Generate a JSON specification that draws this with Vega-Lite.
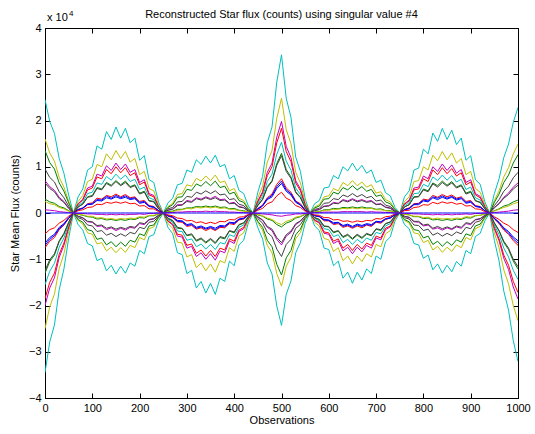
{
"$schema":"https://vega.github.io/schema/vega-lite/v6.json",
"width":473,"height":370,
"autosize":{"type":"none"},
"padding":{"left":45,"top":28,"right":17,"bottom":36},
"background":"white",
"title":{"text":"Reconstructed Star flux (counts) using singular value #4","fontSize":11,"font":"Liberation Sans","fontWeight":"normal","color":"black","offset":-10},
"config":{
"view":{"stroke":"black","strokeWidth":1},
"axis":{"grid":false,"domainColor":"black","tickColor":"black","labelColor":"black","titleColor":"black","labelFont":"Liberation Sans","titleFont":"Liberation Sans","labelFontSize":11,"titleFontSize":11,"titleFontWeight":"normal","tickSize":-5,"domainWidth":1,"tickWidth":1,"labelOverlap":false,"labelFlush":false}
},
"layer":[
{"data":{"values":[
{"x":0,"a":-3.45,"b":-2.5,"c":-2,"d":-1.85,"e":-1.55,"f":-1.3,"g":-1.25,"h":-0.75,"i":-0.7,"j":-0.65,"k":-0.45,"l":2.45,"m":1.6,"n":1.35,"o":0.95,"p":0.7,"q":0.65,"r":0.3,"s":0.25,"t":0.07,"u":0},
{"x":10,"a":-2.79,"b":-2.03,"c":-1.62,"d":-1.5,"e":-1.26,"f":-1.05,"g":-1.01,"h":-0.61,"i":-0.57,"j":-0.53,"k":-0.36,"l":1.98,"m":1.3,"n":1.09,"o":0.77,"p":0.57,"q":0.53,"r":0.24,"s":0.2,"t":0.06,"u":0},
{"x":20,"a":-2.42,"b":-1.75,"c":-1.4,"d":-1.3,"e":-1.09,"f":-0.91,"g":-0.88,"h":-0.53,"i":-0.49,"j":-0.46,"k":-0.32,"l":1.72,"m":1.12,"n":0.95,"o":0.67,"p":0.49,"q":0.46,"r":0.21,"s":0.18,"t":0.05,"u":0},
{"x":30,"a":-1.66,"b":-1.2,"c":-0.96,"d":-0.89,"e":-0.74,"f":-0.62,"g":-0.6,"h":-0.36,"i":-0.34,"j":-0.31,"k":-0.22,"l":1.18,"m":0.77,"n":0.65,"o":0.46,"p":0.34,"q":0.31,"r":0.14,"s":0.12,"t":0.03,"u":0},
{"x":40,"a":-1.21,"b":-0.88,"c":-0.7,"d":-0.65,"e":-0.54,"f":-0.46,"g":-0.44,"h":-0.26,"i":-0.25,"j":-0.23,"k":-0.16,"l":0.86,"m":0.56,"n":0.47,"o":0.33,"p":0.25,"q":0.23,"r":0.11,"s":0.09,"t":0.02,"u":0},
{"x":50,"a":-0.55,"b":-0.4,"c":-0.32,"d":-0.3,"e":-0.25,"f":-0.21,"g":-0.2,"h":-0.12,"i":-0.11,"j":-0.1,"k":-0.07,"l":0.39,"m":0.26,"n":0.22,"o":0.15,"p":0.11,"q":0.1,"r":0.05,"s":0.04,"t":0.01,"u":0},
{"x":60,"a":0,"b":0,"c":0,"d":0,"e":0,"f":0,"g":0,"h":0,"i":0,"j":0,"k":0,"l":0,"m":0,"n":0,"o":0,"p":0,"q":0,"r":0,"s":0,"t":0,"u":0},
{"x":70,"a":0.35,"b":0.25,"c":0.2,"d":0.19,"e":0.16,"f":0.13,"g":0.13,"h":0.08,"i":0.07,"j":0.07,"k":0.05,"l":-0.25,"m":-0.16,"n":-0.14,"o":-0.1,"p":-0.07,"q":-0.07,"r":-0.03,"s":-0.03,"t":-0.01,"u":0},
{"x":80,"a":0.52,"b":0.38,"c":0.3,"d":0.28,"e":0.23,"f":0.2,"g":0.19,"h":0.11,"i":0.11,"j":0.1,"k":0.07,"l":-0.37,"m":-0.24,"n":-0.2,"o":-0.14,"p":-0.11,"q":-0.1,"r":-0.05,"s":-0.04,"t":-0.01,"u":0},
{"x":90,"a":0.93,"b":0.68,"c":0.54,"d":0.5,"e":0.42,"f":0.35,"g":0.34,"h":0.2,"i":0.19,"j":0.18,"k":0.12,"l":-0.66,"m":-0.43,"n":-0.36,"o":-0.26,"p":-0.19,"q":-0.18,"r":-0.08,"s":-0.07,"t":-0.02,"u":0},
{"x":100,"a":1,"b":0.73,"c":0.58,"d":0.54,"e":0.45,"f":0.38,"g":0.36,"h":0.22,"i":0.2,"j":0.19,"k":0.13,"l":-0.71,"m":-0.46,"n":-0.39,"o":-0.28,"p":-0.2,"q":-0.19,"r":-0.09,"s":-0.07,"t":-0.02,"u":0},
{"x":110,"a":1.45,"b":1.05,"c":0.84,"d":0.78,"e":0.65,"f":0.55,"g":0.53,"h":0.32,"i":0.29,"j":0.27,"k":0.19,"l":-1.03,"m":-0.67,"n":-0.57,"o":-0.4,"p":-0.29,"q":-0.27,"r":-0.13,"s":-0.11,"t":-0.03,"u":0},
{"x":120,"a":1.38,"b":1,"c":0.8,"d":0.74,"e":0.62,"f":0.52,"g":0.5,"h":0.3,"i":0.28,"j":0.26,"k":0.18,"l":-0.98,"m":-0.64,"n":-0.54,"o":-0.38,"p":-0.28,"q":-0.26,"r":-0.12,"s":-0.1,"t":-0.03,"u":0},
{"x":130,"a":1.76,"b":1.28,"c":1.02,"d":0.94,"e":0.79,"f":0.66,"g":0.64,"h":0.38,"i":0.36,"j":0.33,"k":0.23,"l":-1.25,"m":-0.82,"n":-0.69,"o":-0.48,"p":-0.36,"q":-0.33,"r":-0.15,"s":-0.13,"t":-0.04,"u":0},
{"x":140,"a":1.59,"b":1.15,"c":0.92,"d":0.85,"e":0.71,"f":0.6,"g":0.58,"h":0.35,"i":0.32,"j":0.3,"k":0.21,"l":-1.13,"m":-0.74,"n":-0.62,"o":-0.44,"p":-0.32,"q":-0.3,"r":-0.14,"s":-0.12,"t":-0.03,"u":0},
{"x":150,"a":1.86,"b":1.35,"c":1.08,"d":1,"e":0.84,"f":0.7,"g":0.68,"h":0.41,"i":0.38,"j":0.35,"k":0.24,"l":-1.32,"m":-0.86,"n":-0.73,"o":-0.51,"p":-0.38,"q":-0.35,"r":-0.16,"s":-0.14,"t":-0.04,"u":0},
{"x":160,"a":1.62,"b":1.18,"c":0.94,"d":0.87,"e":0.73,"f":0.61,"g":0.59,"h":0.35,"i":0.33,"j":0.31,"k":0.21,"l":-1.15,"m":-0.75,"n":-0.63,"o":-0.45,"p":-0.33,"q":-0.31,"r":-0.14,"s":-0.12,"t":-0.03,"u":0},
{"x":170,"a":1.83,"b":1.33,"c":1.06,"d":0.98,"e":0.82,"f":0.69,"g":0.66,"h":0.4,"i":0.37,"j":0.34,"k":0.24,"l":-1.3,"m":-0.85,"n":-0.72,"o":-0.5,"p":-0.37,"q":-0.34,"r":-0.16,"s":-0.13,"t":-0.04,"u":0},
{"x":180,"a":1.52,"b":1.1,"c":0.88,"d":0.81,"e":0.68,"f":0.57,"g":0.55,"h":0.33,"i":0.31,"j":0.29,"k":0.2,"l":-1.08,"m":-0.7,"n":-0.59,"o":-0.42,"p":-0.31,"q":-0.29,"r":-0.13,"s":-0.11,"t":-0.03,"u":0},
{"x":190,"a":1.62,"b":1.18,"c":0.94,"d":0.87,"e":0.73,"f":0.61,"g":0.59,"h":0.35,"i":0.33,"j":0.31,"k":0.21,"l":-1.15,"m":-0.75,"n":-0.63,"o":-0.45,"p":-0.33,"q":-0.31,"r":-0.14,"s":-0.12,"t":-0.03,"u":0},
{"x":200,"a":1.14,"b":0.83,"c":0.66,"d":0.61,"e":0.51,"f":0.43,"g":0.41,"h":0.25,"i":0.23,"j":0.21,"k":0.15,"l":-0.81,"m":-0.53,"n":-0.45,"o":-0.31,"p":-0.23,"q":-0.21,"r":-0.1,"s":-0.08,"t":-0.02,"u":0},
{"x":210,"a":1.24,"b":0.9,"c":0.72,"d":0.67,"e":0.56,"f":0.47,"g":0.45,"h":0.27,"i":0.25,"j":0.23,"k":0.16,"l":-0.88,"m":-0.58,"n":-0.49,"o":-0.34,"p":-0.25,"q":-0.23,"r":-0.11,"s":-0.09,"t":-0.03,"u":0},
{"x":220,"a":0.72,"b":0.53,"c":0.42,"d":0.39,"e":0.33,"f":0.27,"g":0.26,"h":0.16,"i":0.15,"j":0.14,"k":0.09,"l":-0.51,"m":-0.34,"n":-0.28,"o":-0.2,"p":-0.15,"q":-0.14,"r":-0.06,"s":-0.05,"t":-0.01,"u":0},
{"x":230,"a":0.66,"b":0.48,"c":0.38,"d":0.35,"e":0.29,"f":0.25,"g":0.24,"h":0.14,"i":0.13,"j":0.12,"k":0.09,"l":-0.47,"m":-0.3,"n":-0.26,"o":-0.18,"p":-0.13,"q":-0.12,"r":-0.06,"s":-0.05,"t":-0.01,"u":0},
{"x":240,"a":0.24,"b":0.18,"c":0.14,"d":0.13,"e":0.11,"f":0.09,"g":0.09,"h":0.05,"i":0.05,"j":0.05,"k":0.03,"l":-0.17,"m":-0.11,"n":-0.09,"o":-0.07,"p":-0.05,"q":-0.05,"r":-0.02,"s":-0.02,"t":0,"u":0},
{"x":250,"a":0,"b":0,"c":0,"d":0,"e":0,"f":0,"g":0,"h":0,"i":0,"j":0,"k":0,"l":0,"m":0,"n":0,"o":0,"p":0,"q":0,"r":0,"s":0,"t":0,"u":0},
{"x":260,"a":-0.31,"b":-0.23,"c":-0.18,"d":-0.17,"e":-0.14,"f":-0.12,"g":-0.11,"h":-0.07,"i":-0.06,"j":-0.06,"k":-0.04,"l":0.22,"m":0.14,"n":0.12,"o":0.09,"p":0.06,"q":0.06,"r":0.03,"s":0.02,"t":0.01,"u":0},
{"x":270,"a":-0.45,"b":-0.33,"c":-0.26,"d":-0.24,"e":-0.2,"f":-0.17,"g":-0.16,"h":-0.1,"i":-0.09,"j":-0.08,"k":-0.06,"l":0.32,"m":0.21,"n":0.18,"o":0.12,"p":0.09,"q":0.08,"r":0.04,"s":0.03,"t":0.01,"u":0},
{"x":280,"a":-0.86,"b":-0.63,"c":-0.5,"d":-0.46,"e":-0.39,"f":-0.33,"g":-0.31,"h":-0.19,"i":-0.18,"j":-0.16,"k":-0.11,"l":0.61,"m":0.4,"n":0.34,"o":0.24,"p":0.18,"q":0.16,"r":0.08,"s":0.06,"t":0.02,"u":0},
{"x":290,"a":-0.9,"b":-0.65,"c":-0.52,"d":-0.48,"e":-0.4,"f":-0.34,"g":-0.33,"h":-0.2,"i":-0.18,"j":-0.17,"k":-0.12,"l":0.64,"m":0.42,"n":0.35,"o":0.25,"p":0.18,"q":0.17,"r":0.08,"s":0.07,"t":0.02,"u":0},
{"x":300,"a":-1.31,"b":-0.95,"c":-0.76,"d":-0.7,"e":-0.59,"f":-0.49,"g":-0.48,"h":-0.29,"i":-0.27,"j":-0.25,"k":-0.17,"l":0.93,"m":0.61,"n":0.51,"o":0.36,"p":0.27,"q":0.25,"r":0.11,"s":0.1,"t":0.03,"u":0},
{"x":310,"a":-1.24,"b":-0.9,"c":-0.72,"d":-0.67,"e":-0.56,"f":-0.47,"g":-0.45,"h":-0.27,"i":-0.25,"j":-0.23,"k":-0.16,"l":0.88,"m":0.58,"n":0.49,"o":0.34,"p":0.25,"q":0.23,"r":0.11,"s":0.09,"t":0.03,"u":0},
{"x":320,"a":-1.62,"b":-1.18,"c":-0.94,"d":-0.87,"e":-0.73,"f":-0.61,"g":-0.59,"h":-0.35,"i":-0.33,"j":-0.31,"k":-0.21,"l":1.15,"m":0.75,"n":0.63,"o":0.45,"p":0.33,"q":0.31,"r":0.14,"s":0.12,"t":0.03,"u":0},
{"x":330,"a":-1.48,"b":-1.08,"c":-0.86,"d":-0.8,"e":-0.67,"f":-0.56,"g":-0.54,"h":-0.32,"i":-0.3,"j":-0.28,"k":-0.19,"l":1.05,"m":0.69,"n":0.58,"o":0.41,"p":0.3,"q":0.28,"r":0.13,"s":0.11,"t":0.03,"u":0},
{"x":340,"a":-1.73,"b":-1.25,"c":-1,"d":-0.93,"e":-0.78,"f":-0.65,"g":-0.63,"h":-0.38,"i":-0.35,"j":-0.33,"k":-0.23,"l":1.23,"m":0.8,"n":0.68,"o":0.48,"p":0.35,"q":0.33,"r":0.15,"s":0.13,"t":0.04,"u":0},
{"x":350,"a":-1.52,"b":-1.1,"c":-0.88,"d":-0.81,"e":-0.68,"f":-0.57,"g":-0.55,"h":-0.33,"i":-0.31,"j":-0.29,"k":-0.2,"l":1.08,"m":0.7,"n":0.59,"o":0.42,"p":0.31,"q":0.29,"r":0.13,"s":0.11,"t":0.03,"u":0},
{"x":360,"a":-1.76,"b":-1.28,"c":-1.02,"d":-0.94,"e":-0.79,"f":-0.66,"g":-0.64,"h":-0.38,"i":-0.36,"j":-0.33,"k":-0.23,"l":1.25,"m":0.82,"n":0.69,"o":0.48,"p":0.36,"q":0.33,"r":0.15,"s":0.13,"t":0.04,"u":0},
{"x":370,"a":-1.41,"b":-1.03,"c":-0.82,"d":-0.76,"e":-0.64,"f":-0.53,"g":-0.51,"h":-0.31,"i":-0.29,"j":-0.27,"k":-0.18,"l":1,"m":0.66,"n":0.55,"o":0.39,"p":0.29,"q":0.27,"r":0.12,"s":0.1,"t":0.03,"u":0},
{"x":380,"a":-1.48,"b":-1.08,"c":-0.86,"d":-0.8,"e":-0.67,"f":-0.56,"g":-0.54,"h":-0.32,"i":-0.3,"j":-0.28,"k":-0.19,"l":1.05,"m":0.69,"n":0.58,"o":0.41,"p":0.3,"q":0.28,"r":0.13,"s":0.11,"t":0.03,"u":0},
{"x":390,"a":-1.04,"b":-0.75,"c":-0.6,"d":-0.56,"e":-0.47,"f":-0.39,"g":-0.38,"h":-0.23,"i":-0.21,"j":-0.2,"k":-0.14,"l":0.74,"m":0.48,"n":0.41,"o":0.29,"p":0.21,"q":0.2,"r":0.09,"s":0.08,"t":0.02,"u":0},
{"x":400,"a":-1.14,"b":-0.83,"c":-0.66,"d":-0.61,"e":-0.51,"f":-0.43,"g":-0.41,"h":-0.25,"i":-0.23,"j":-0.21,"k":-0.15,"l":0.81,"m":0.53,"n":0.45,"o":0.31,"p":0.23,"q":0.21,"r":0.1,"s":0.08,"t":0.02,"u":0},
{"x":410,"a":-0.69,"b":-0.5,"c":-0.4,"d":-0.37,"e":-0.31,"f":-0.26,"g":-0.25,"h":-0.15,"i":-0.14,"j":-0.13,"k":-0.09,"l":0.49,"m":0.32,"n":0.27,"o":0.19,"p":0.14,"q":0.13,"r":0.06,"s":0.05,"t":0.01,"u":0},
{"x":420,"a":-0.59,"b":-0.43,"c":-0.34,"d":-0.31,"e":-0.26,"f":-0.22,"g":-0.21,"h":-0.13,"i":-0.12,"j":-0.11,"k":-0.08,"l":0.42,"m":0.27,"n":0.23,"o":0.16,"p":0.12,"q":0.11,"r":0.05,"s":0.04,"t":0.01,"u":0},
{"x":430,"a":-0.21,"b":-0.15,"c":-0.12,"d":-0.11,"e":-0.09,"f":-0.08,"g":-0.08,"h":-0.05,"i":-0.04,"j":-0.04,"k":-0.03,"l":0.15,"m":0.1,"n":0.08,"o":0.06,"p":0.04,"q":0.04,"r":0.02,"s":0.02,"t":0,"u":0},
{"x":440,"a":0,"b":0,"c":0,"d":0,"e":0,"f":0,"g":0,"h":0,"i":0,"j":0,"k":0,"l":0,"m":0,"n":0,"o":0,"p":0,"q":0,"r":0,"s":0,"t":0,"u":0},
{"x":450,"a":0.45,"b":0.33,"c":0.26,"d":0.24,"e":0.2,"f":0.17,"g":0.16,"h":0.1,"i":0.09,"j":0.08,"k":0.06,"l":-0.32,"m":-0.21,"n":-0.18,"o":-0.12,"p":-0.09,"q":-0.08,"r":-0.04,"s":-0.03,"t":-0.01,"u":0},
{"x":460,"a":0.79,"b":0.58,"c":0.46,"d":0.43,"e":0.36,"f":0.3,"g":0.29,"h":0.17,"i":0.16,"j":0.15,"k":0.1,"l":-0.56,"m":-0.37,"n":-0.31,"o":-0.22,"p":-0.16,"q":-0.15,"r":-0.07,"s":-0.06,"t":-0.02,"u":0},
{"x":470,"a":1.52,"b":1.1,"c":0.88,"d":0.81,"e":0.68,"f":0.57,"g":0.55,"h":0.33,"i":0.31,"j":0.29,"k":0.2,"l":-1.08,"m":-0.7,"n":-0.59,"o":-0.42,"p":-0.31,"q":-0.29,"r":-0.13,"s":-0.11,"t":-0.03,"u":0},
{"x":480,"a":1.86,"b":1.35,"c":1.08,"d":1,"e":0.84,"f":0.7,"g":0.68,"h":0.41,"i":0.38,"j":0.35,"k":0.24,"l":-1.32,"m":-0.86,"n":-0.73,"o":-0.51,"p":-0.38,"q":-0.35,"r":-0.16,"s":-0.14,"t":-0.04,"u":0},
{"x":490,"a":2.83,"b":2.05,"c":1.64,"d":1.52,"e":1.27,"f":1.07,"g":1.03,"h":0.62,"i":0.57,"j":0.53,"k":0.37,"l":-2.01,"m":-1.31,"n":-1.11,"o":-0.78,"p":-0.57,"q":-0.53,"r":-0.25,"s":-0.21,"t":-0.06,"u":0},
{"x":500,"a":3.42,"b":2.48,"c":1.98,"d":1.83,"e":1.53,"f":1.29,"g":1.24,"h":0.74,"i":0.69,"j":0.64,"k":0.45,"l":-2.43,"m":-1.58,"n":-1.34,"o":-0.94,"p":-0.69,"q":-0.64,"r":-0.3,"s":-0.25,"t":-0.07,"u":0},
{"x":510,"a":2.48,"b":1.8,"c":1.44,"d":1.33,"e":1.12,"f":0.94,"g":0.9,"h":0.54,"i":0.5,"j":0.47,"k":0.32,"l":-1.76,"m":-1.15,"n":-0.97,"o":-0.68,"p":-0.5,"q":-0.47,"r":-0.22,"s":-0.18,"t":-0.05,"u":0},
{"x":520,"a":2.07,"b":1.5,"c":1.2,"d":1.11,"e":0.93,"f":0.78,"g":0.75,"h":0.45,"i":0.42,"j":0.39,"k":0.27,"l":-1.47,"m":-0.96,"n":-0.81,"o":-0.57,"p":-0.42,"q":-0.39,"r":-0.18,"s":-0.15,"t":-0.04,"u":0},
{"x":530,"a":1.21,"b":0.88,"c":0.7,"d":0.65,"e":0.54,"f":0.46,"g":0.44,"h":0.26,"i":0.25,"j":0.23,"k":0.16,"l":-0.86,"m":-0.56,"n":-0.47,"o":-0.33,"p":-0.25,"q":-0.23,"r":-0.11,"s":-0.09,"t":-0.02,"u":0},
{"x":540,"a":0.9,"b":0.65,"c":0.52,"d":0.48,"e":0.4,"f":0.34,"g":0.33,"h":0.2,"i":0.18,"j":0.17,"k":0.12,"l":-0.64,"m":-0.42,"n":-0.35,"o":-0.25,"p":-0.18,"q":-0.17,"r":-0.08,"s":-0.07,"t":-0.02,"u":0},
{"x":550,"a":0.31,"b":0.23,"c":0.18,"d":0.17,"e":0.14,"f":0.12,"g":0.11,"h":0.07,"i":0.06,"j":0.06,"k":0.04,"l":-0.22,"m":-0.14,"n":-0.12,"o":-0.09,"p":-0.06,"q":-0.06,"r":-0.03,"s":-0.02,"t":-0.01,"u":0},
{"x":560,"a":0,"b":0,"c":0,"d":0,"e":0,"f":0,"g":0,"h":0,"i":0,"j":0,"k":0,"l":0,"m":0,"n":0,"o":0,"p":0,"q":0,"r":0,"s":0,"t":0,"u":0},
{"x":570,"a":-0.28,"b":-0.2,"c":-0.16,"d":-0.15,"e":-0.12,"f":-0.1,"g":-0.1,"h":-0.06,"i":-0.06,"j":-0.05,"k":-0.04,"l":0.2,"m":0.13,"n":0.11,"o":0.08,"p":0.06,"q":0.05,"r":0.02,"s":0.02,"t":0.01,"u":0},
{"x":580,"a":-0.38,"b":-0.28,"c":-0.22,"d":-0.2,"e":-0.17,"f":-0.14,"g":-0.14,"h":-0.08,"i":-0.08,"j":-0.07,"k":-0.05,"l":0.27,"m":0.18,"n":0.15,"o":0.1,"p":0.08,"q":0.07,"r":0.03,"s":0.03,"t":0.01,"u":0},
{"x":590,"a":-0.76,"b":-0.55,"c":-0.44,"d":-0.41,"e":-0.34,"f":-0.29,"g":-0.28,"h":-0.17,"i":-0.15,"j":-0.14,"k":-0.1,"l":0.54,"m":0.35,"n":0.3,"o":0.21,"p":0.15,"q":0.14,"r":0.07,"s":0.06,"t":0.02,"u":0},
{"x":600,"a":-0.79,"b":-0.58,"c":-0.46,"d":-0.43,"e":-0.36,"f":-0.3,"g":-0.29,"h":-0.17,"i":-0.16,"j":-0.15,"k":-0.1,"l":0.56,"m":0.37,"n":0.31,"o":0.22,"p":0.16,"q":0.15,"r":0.07,"s":0.06,"t":0.02,"u":0},
{"x":610,"a":-1.14,"b":-0.83,"c":-0.66,"d":-0.61,"e":-0.51,"f":-0.43,"g":-0.41,"h":-0.25,"i":-0.23,"j":-0.21,"k":-0.15,"l":0.81,"m":0.53,"n":0.45,"o":0.31,"p":0.23,"q":0.21,"r":0.1,"s":0.08,"t":0.02,"u":0},
{"x":620,"a":-1.04,"b":-0.75,"c":-0.6,"d":-0.56,"e":-0.47,"f":-0.39,"g":-0.38,"h":-0.23,"i":-0.21,"j":-0.2,"k":-0.14,"l":0.74,"m":0.48,"n":0.41,"o":0.29,"p":0.21,"q":0.2,"r":0.09,"s":0.08,"t":0.02,"u":0},
{"x":630,"a":-1.41,"b":-1.03,"c":-0.82,"d":-0.76,"e":-0.64,"f":-0.53,"g":-0.51,"h":-0.31,"i":-0.29,"j":-0.27,"k":-0.18,"l":1,"m":0.66,"n":0.55,"o":0.39,"p":0.29,"q":0.27,"r":0.12,"s":0.1,"t":0.03,"u":0},
{"x":640,"a":-1.28,"b":-0.93,"c":-0.74,"d":-0.68,"e":-0.57,"f":-0.48,"g":-0.46,"h":-0.28,"i":-0.26,"j":-0.24,"k":-0.17,"l":0.91,"m":0.59,"n":0.5,"o":0.35,"p":0.26,"q":0.24,"r":0.11,"s":0.09,"t":0.03,"u":0},
{"x":650,"a":-1.52,"b":-1.1,"c":-0.88,"d":-0.81,"e":-0.68,"f":-0.57,"g":-0.55,"h":-0.33,"i":-0.31,"j":-0.29,"k":-0.2,"l":1.08,"m":0.7,"n":0.59,"o":0.42,"p":0.31,"q":0.29,"r":0.13,"s":0.11,"t":0.03,"u":0},
{"x":660,"a":-1.28,"b":-0.93,"c":-0.74,"d":-0.68,"e":-0.57,"f":-0.48,"g":-0.46,"h":-0.28,"i":-0.26,"j":-0.24,"k":-0.17,"l":0.91,"m":0.59,"n":0.5,"o":0.35,"p":0.26,"q":0.24,"r":0.11,"s":0.09,"t":0.03,"u":0},
{"x":670,"a":-1.45,"b":-1.05,"c":-0.84,"d":-0.78,"e":-0.65,"f":-0.55,"g":-0.53,"h":-0.32,"i":-0.29,"j":-0.27,"k":-0.19,"l":1.03,"m":0.67,"n":0.57,"o":0.4,"p":0.29,"q":0.27,"r":0.13,"s":0.11,"t":0.03,"u":0},
{"x":680,"a":-1.21,"b":-0.88,"c":-0.7,"d":-0.65,"e":-0.54,"f":-0.46,"g":-0.44,"h":-0.26,"i":-0.25,"j":-0.23,"k":-0.16,"l":0.86,"m":0.56,"n":0.47,"o":0.33,"p":0.25,"q":0.23,"r":0.11,"s":0.09,"t":0.02,"u":0},
{"x":690,"a":-1.31,"b":-0.95,"c":-0.76,"d":-0.7,"e":-0.59,"f":-0.49,"g":-0.48,"h":-0.29,"i":-0.27,"j":-0.25,"k":-0.17,"l":0.93,"m":0.61,"n":0.51,"o":0.36,"p":0.27,"q":0.25,"r":0.11,"s":0.1,"t":0.03,"u":0},
{"x":700,"a":-0.93,"b":-0.68,"c":-0.54,"d":-0.5,"e":-0.42,"f":-0.35,"g":-0.34,"h":-0.2,"i":-0.19,"j":-0.18,"k":-0.12,"l":0.66,"m":0.43,"n":0.36,"o":0.26,"p":0.19,"q":0.18,"r":0.08,"s":0.07,"t":0.02,"u":0},
{"x":710,"a":-1,"b":-0.73,"c":-0.58,"d":-0.54,"e":-0.45,"f":-0.38,"g":-0.36,"h":-0.22,"i":-0.2,"j":-0.19,"k":-0.13,"l":0.71,"m":0.46,"n":0.39,"o":0.28,"p":0.2,"q":0.19,"r":0.09,"s":0.07,"t":0.02,"u":0},
{"x":720,"a":-0.62,"b":-0.45,"c":-0.36,"d":-0.33,"e":-0.28,"f":-0.23,"g":-0.23,"h":-0.14,"i":-0.13,"j":-0.12,"k":-0.08,"l":0.44,"m":0.29,"n":0.24,"o":0.17,"p":0.13,"q":0.12,"r":0.05,"s":0.05,"t":0.01,"u":0},
{"x":730,"a":-0.52,"b":-0.38,"c":-0.3,"d":-0.28,"e":-0.23,"f":-0.2,"g":-0.19,"h":-0.11,"i":-0.11,"j":-0.1,"k":-0.07,"l":0.37,"m":0.24,"n":0.2,"o":0.14,"p":0.11,"q":0.1,"r":0.05,"s":0.04,"t":0.01,"u":0},
{"x":740,"a":-0.17,"b":-0.13,"c":-0.1,"d":-0.09,"e":-0.08,"f":-0.07,"g":-0.06,"h":-0.04,"i":-0.04,"j":-0.03,"k":-0.02,"l":0.12,"m":0.08,"n":0.07,"o":0.05,"p":0.04,"q":0.03,"r":0.02,"s":0.01,"t":0,"u":0},
{"x":750,"a":0,"b":0,"c":0,"d":0,"e":0,"f":0,"g":0,"h":0,"i":0,"j":0,"k":0,"l":0,"m":0,"n":0,"o":0,"p":0,"q":0,"r":0,"s":0,"t":0,"u":0},
{"x":760,"a":0.35,"b":0.25,"c":0.2,"d":0.19,"e":0.16,"f":0.13,"g":0.13,"h":0.08,"i":0.07,"j":0.07,"k":0.05,"l":-0.25,"m":-0.16,"n":-0.14,"o":-0.1,"p":-0.07,"q":-0.07,"r":-0.03,"s":-0.03,"t":-0.01,"u":0},
{"x":770,"a":0.48,"b":0.35,"c":0.28,"d":0.26,"e":0.22,"f":0.18,"g":0.18,"h":0.11,"i":0.1,"j":0.09,"k":0.06,"l":-0.34,"m":-0.22,"n":-0.19,"o":-0.13,"p":-0.1,"q":-0.09,"r":-0.04,"s":-0.04,"t":-0.01,"u":0},
{"x":780,"a":0.93,"b":0.68,"c":0.54,"d":0.5,"e":0.42,"f":0.35,"g":0.34,"h":0.2,"i":0.19,"j":0.18,"k":0.12,"l":-0.66,"m":-0.43,"n":-0.36,"o":-0.26,"p":-0.19,"q":-0.18,"r":-0.08,"s":-0.07,"t":-0.02,"u":0},
{"x":790,"a":0.97,"b":0.7,"c":0.56,"d":0.52,"e":0.43,"f":0.36,"g":0.35,"h":0.21,"i":0.2,"j":0.18,"k":0.13,"l":-0.69,"m":-0.45,"n":-0.38,"o":-0.27,"p":-0.2,"q":-0.18,"r":-0.08,"s":-0.07,"t":-0.02,"u":0},
{"x":800,"a":1.38,"b":1,"c":0.8,"d":0.74,"e":0.62,"f":0.52,"g":0.5,"h":0.3,"i":0.28,"j":0.26,"k":0.18,"l":-0.98,"m":-0.64,"n":-0.54,"o":-0.38,"p":-0.28,"q":-0.26,"r":-0.12,"s":-0.1,"t":-0.03,"u":0},
{"x":810,"a":1.28,"b":0.93,"c":0.74,"d":0.68,"e":0.57,"f":0.48,"g":0.46,"h":0.28,"i":0.26,"j":0.24,"k":0.17,"l":-0.91,"m":-0.59,"n":-0.5,"o":-0.35,"p":-0.26,"q":-0.24,"r":-0.11,"s":-0.09,"t":-0.03,"u":0},
{"x":820,"a":1.73,"b":1.25,"c":1,"d":0.93,"e":0.78,"f":0.65,"g":0.63,"h":0.38,"i":0.35,"j":0.33,"k":0.23,"l":-1.23,"m":-0.8,"n":-0.68,"o":-0.48,"p":-0.35,"q":-0.33,"r":-0.15,"s":-0.13,"t":-0.04,"u":0},
{"x":830,"a":1.55,"b":1.13,"c":0.9,"d":0.83,"e":0.7,"f":0.59,"g":0.56,"h":0.34,"i":0.32,"j":0.29,"k":0.2,"l":-1.1,"m":-0.72,"n":-0.61,"o":-0.43,"p":-0.32,"q":-0.29,"r":-0.14,"s":-0.11,"t":-0.03,"u":0},
{"x":840,"a":1.83,"b":1.33,"c":1.06,"d":0.98,"e":0.82,"f":0.69,"g":0.66,"h":0.4,"i":0.37,"j":0.34,"k":0.24,"l":-1.3,"m":-0.85,"n":-0.72,"o":-0.5,"p":-0.37,"q":-0.34,"r":-0.16,"s":-0.13,"t":-0.04,"u":0},
{"x":850,"a":1.59,"b":1.15,"c":0.92,"d":0.85,"e":0.71,"f":0.6,"g":0.58,"h":0.35,"i":0.32,"j":0.3,"k":0.21,"l":-1.13,"m":-0.74,"n":-0.62,"o":-0.44,"p":-0.32,"q":-0.3,"r":-0.14,"s":-0.12,"t":-0.03,"u":0},
{"x":860,"a":1.79,"b":1.3,"c":1.04,"d":0.96,"e":0.81,"f":0.68,"g":0.65,"h":0.39,"i":0.36,"j":0.34,"k":0.23,"l":-1.27,"m":-0.83,"n":-0.7,"o":-0.49,"p":-0.36,"q":-0.34,"r":-0.16,"s":-0.13,"t":-0.04,"u":0},
{"x":870,"a":1.48,"b":1.08,"c":0.86,"d":0.8,"e":0.67,"f":0.56,"g":0.54,"h":0.32,"i":0.3,"j":0.28,"k":0.19,"l":-1.05,"m":-0.69,"n":-0.58,"o":-0.41,"p":-0.3,"q":-0.28,"r":-0.13,"s":-0.11,"t":-0.03,"u":0},
{"x":880,"a":1.62,"b":1.18,"c":0.94,"d":0.87,"e":0.73,"f":0.61,"g":0.59,"h":0.35,"i":0.33,"j":0.31,"k":0.21,"l":-1.15,"m":-0.75,"n":-0.63,"o":-0.45,"p":-0.33,"q":-0.31,"r":-0.14,"s":-0.12,"t":-0.03,"u":0},
{"x":890,"a":1.14,"b":0.83,"c":0.66,"d":0.61,"e":0.51,"f":0.43,"g":0.41,"h":0.25,"i":0.23,"j":0.21,"k":0.15,"l":-0.81,"m":-0.53,"n":-0.45,"o":-0.31,"p":-0.23,"q":-0.21,"r":-0.1,"s":-0.08,"t":-0.02,"u":0},
{"x":900,"a":1.24,"b":0.9,"c":0.72,"d":0.67,"e":0.56,"f":0.47,"g":0.45,"h":0.27,"i":0.25,"j":0.23,"k":0.16,"l":-0.88,"m":-0.58,"n":-0.49,"o":-0.34,"p":-0.25,"q":-0.23,"r":-0.11,"s":-0.09,"t":-0.03,"u":0},
{"x":910,"a":0.72,"b":0.53,"c":0.42,"d":0.39,"e":0.33,"f":0.27,"g":0.26,"h":0.16,"i":0.15,"j":0.14,"k":0.09,"l":-0.51,"m":-0.34,"n":-0.28,"o":-0.2,"p":-0.15,"q":-0.14,"r":-0.06,"s":-0.05,"t":-0.01,"u":0},
{"x":920,"a":0.62,"b":0.45,"c":0.36,"d":0.33,"e":0.28,"f":0.23,"g":0.23,"h":0.14,"i":0.13,"j":0.12,"k":0.08,"l":-0.44,"m":-0.29,"n":-0.24,"o":-0.17,"p":-0.13,"q":-0.12,"r":-0.05,"s":-0.05,"t":-0.01,"u":0},
{"x":930,"a":0.24,"b":0.18,"c":0.14,"d":0.13,"e":0.11,"f":0.09,"g":0.09,"h":0.05,"i":0.05,"j":0.05,"k":0.03,"l":-0.17,"m":-0.11,"n":-0.09,"o":-0.07,"p":-0.05,"q":-0.05,"r":-0.02,"s":-0.02,"t":0,"u":0},
{"x":940,"a":0,"b":0,"c":0,"d":0,"e":0,"f":0,"g":0,"h":0,"i":0,"j":0,"k":0,"l":0,"m":0,"n":0,"o":0,"p":0,"q":0,"r":0,"s":0,"t":0,"u":0},
{"x":950,"a":-0.59,"b":-0.43,"c":-0.34,"d":-0.31,"e":-0.26,"f":-0.22,"g":-0.21,"h":-0.13,"i":-0.12,"j":-0.11,"k":-0.08,"l":0.42,"m":0.27,"n":0.23,"o":0.16,"p":0.12,"q":0.11,"r":0.05,"s":0.04,"t":0.01,"u":0},
{"x":960,"a":-1.04,"b":-0.75,"c":-0.6,"d":-0.56,"e":-0.47,"f":-0.39,"g":-0.38,"h":-0.23,"i":-0.21,"j":-0.2,"k":-0.14,"l":0.74,"m":0.48,"n":0.41,"o":0.29,"p":0.21,"q":0.2,"r":0.09,"s":0.08,"t":0.02,"u":0},
{"x":970,"a":-1.69,"b":-1.23,"c":-0.98,"d":-0.91,"e":-0.76,"f":-0.64,"g":-0.61,"h":-0.37,"i":-0.34,"j":-0.32,"k":-0.22,"l":1.2,"m":0.78,"n":0.66,"o":0.47,"p":0.34,"q":0.32,"r":0.15,"s":0.12,"t":0.03,"u":0},
{"x":980,"a":-2.1,"b":-1.53,"c":-1.22,"d":-1.13,"e":-0.95,"f":-0.79,"g":-0.76,"h":-0.46,"i":-0.43,"j":-0.4,"k":-0.27,"l":1.49,"m":0.98,"n":0.82,"o":0.58,"p":0.43,"q":0.4,"r":0.18,"s":0.15,"t":0.04,"u":0},
{"x":990,"a":-2.76,"b":-2,"c":-1.6,"d":-1.48,"e":-1.24,"f":-1.04,"g":-1,"h":-0.6,"i":-0.56,"j":-0.52,"k":-0.36,"l":1.96,"m":1.28,"n":1.08,"o":0.76,"p":0.56,"q":0.52,"r":0.24,"s":0.2,"t":0.06,"u":0},
{"x":1000,"a":-3.21,"b":-2.33,"c":-1.86,"d":-1.72,"e":-1.44,"f":-1.21,"g":-1.16,"h":-0.7,"i":-0.65,"j":-0.6,"k":-0.42,"l":2.28,"m":1.49,"n":1.26,"o":0.88,"p":0.65,"q":0.6,"r":0.28,"s":0.23,"t":0.07,"u":0}
]},
"transform":[{"fold":["a","b","c","d","e","f","g","h","i","j","k","l","m","n","o","p","q","r","s","t","u"],"as":["s","v"]}],
"mark":{"type":"line","strokeWidth":1,"clip":true},
"encoding":{
"x":{"field":"x","type":"quantitative","scale":{"domain":[0,1000],"nice":false,"zero":false},"axis":{"values":[0,100,200,300,400,500,600,700,800,900,1000],"format":"d","title":"Observations","labelPadding":9,"titlePadding":1}},
"y":{"field":"v","type":"quantitative","scale":{"domain":[-4,4],"nice":false},"axis":{"values":[-4,-3,-2,-1,0,1,2,3,4],"format":"d","title":"Star Mean Flux (counts)","labelPadding":9,"titlePadding":8}},
"color":{"field":"s","type":"nominal","legend":null,"scale":{"domain":["a","b","c","d","e","f","g","h","i","j","k","l","m","n","o","p","q","r","s","t","u"],"range":["#00BFBF","#BFBF00","#BF00BF","#FF0000","#00BFBF","#008000","#404040","#FF0000","#0000FF","#0000FF","#FF0000","#00BFBF","#BFBF00","#008000","#404040","#BF00BF","#404040","#008000","#BFBF00","#BF00BF","#0000FF"]}}
}},
{"data":{"values":[{"t":"x 10"}]},
"mark":{"type":"text","align":"left","baseline":"alphabetic","dx":2,"dy":-7,"fontSize":11,"font":"Liberation Sans","color":"black"},
"encoding":{"x":{"datum":0,"type":"quantitative","axis":null},"y":{"datum":4,"type":"quantitative","axis":null},"text":{"field":"t"}}},
{"data":{"values":[{"t":"4"}]},
"mark":{"type":"text","align":"left","baseline":"alphabetic","dx":24,"dy":-12,"fontSize":8,"font":"Liberation Sans","color":"black"},
"encoding":{"x":{"datum":0,"type":"quantitative","axis":null},"y":{"datum":4,"type":"quantitative","axis":null},"text":{"field":"t"}}},
{"data":{"values":[{"x":0,"v":0}]},
"mark":{"type":"point","opacity":0},
"encoding":{
"x":{"field":"x","type":"quantitative","scale":{"domain":[0,1000],"nice":false,"zero":false},"axis":{"orient":"top","labels":false,"title":null,"domain":false,"values":[0,100,200,300,400,500,600,700,800,900,1000]}},
"y":{"field":"v","type":"quantitative","scale":{"domain":[-4,4],"nice":false},"axis":{"orient":"right","labels":false,"title":null,"domain":false,"values":[-4,-3,-2,-1,0,1,2,3,4]}}}}
],
"resolve":{"axis":{"x":"independent","y":"independent"}}
}
